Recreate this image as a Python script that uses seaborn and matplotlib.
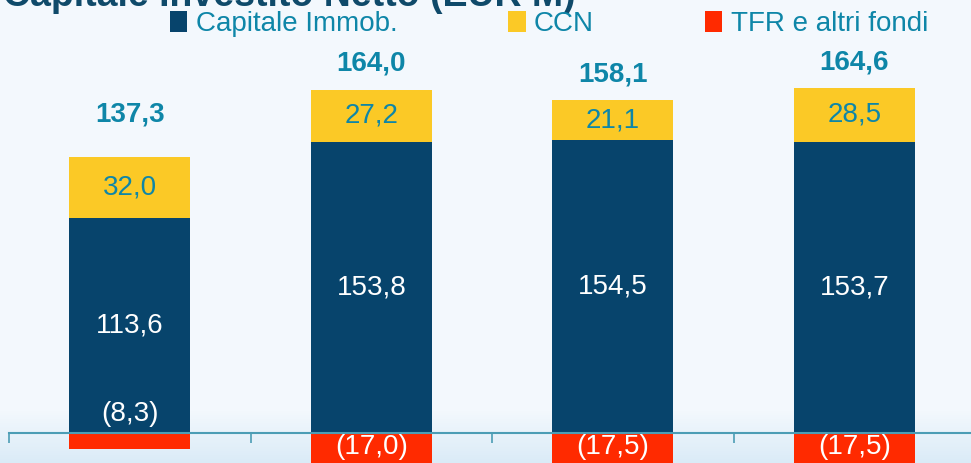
import numpy as np
import pandas as pd
import matplotlib
matplotlib.use("Agg")
import matplotlib.pyplot as plt
import seaborn as sns
from matplotlib.patches import Patch

# data
periods = ["P1", "P2", "P3", "P4"]
capitale_immob = [113.6, 153.8, 154.5, 153.7]
ccn = [32.0, 27.2, 21.1, 28.5]
tfr_fondi = [-8.3, -17.0, -17.5, -17.5]
totals = [137.3, 164.0, 158.1, 164.6]
series_names = ["Capitale Immob.", "CCN", "TFR e altri fondi"]
title = "Capitale Investito Netto (EUR M)"

# colours
c_blue = "#07446C"
c_yellow = "#FBC926"
c_red = "#FF2A00"
c_teal = "#0E86A8"
c_title = "#0F4A6A"
c_axis = "#4C9DB5"

df = pd.DataFrame({"period": periods, "immob": capitale_immob,
                   "ccn": ccn, "tfr": tfr_fondi, "total": totals})


def fmt(v):
    s = f"{abs(v):.1f}".replace(".", ",")
    return f"({s})" if v < 0 else s


sns.set_style("white")
plt.rcParams["font.family"] = ["Liberation Sans", "DejaVu Sans"]

W, H = 971, 463
fig = plt.figure(figsize=(W / 100, H / 100), dpi=100)
fig.patch.set_facecolor("#F3F8FD")

# background gradient (light band at the bottom)
bg = fig.add_axes([0, 0, 1, 1], zorder=-1)
rows = np.arange(H)
top_c = np.array([0xF3, 0xF8, 0xFD]) / 255
bot_c = np.array([0xDA, 0xEB, 0xF7]) / 255
t = np.clip((rows - 410) / (H - 410), 0, 1)[:, None]
grad = top_c * (1 - t) + bot_c * t
bg.imshow(grad[:, None, :], aspect="auto", extent=[0, 1, 0, 1], origin="upper")
bg.axis("off")

# main axes: baseline at 433 px from top, 1.895 px per unit
scale = 1.895
ax = fig.add_axes([9 / W, 0, 966 / W, 1])
ax.set_facecolor("none")

bar_kw = dict(width=0.5, saturation=1, linewidth=0, edgecolor="none", ax=ax)
sns.barplot(data=df, x="period", y="immob", color=c_blue, **bar_kw)
sns.barplot(data=df, x="period", y="ccn", bottom=df["immob"], color=c_yellow,
            **bar_kw)
sns.barplot(data=df, x="period", y="tfr", color=c_red, **bar_kw)

ax.set_xlim(-0.5, 3.5)
ax.set_ylim(-(H - 433) / scale, 433 / scale)

for i, r in df.iterrows():
    ax.text(i, r["immob"] / 2, fmt(r["immob"]), ha="center", va="center",
            color="white", fontsize=20)
    ax.text(i, r["immob"] + r["ccn"] / 2, fmt(r["ccn"]), ha="center",
            va="center", color=c_teal, fontsize=20)
    ry = 10 if abs(r["tfr"]) < 10 else -7.5
    ax.text(i, ry, fmt(r["tfr"]), ha="center", va="center",
            color="white", fontsize=20)
    ax.text(i, r["total"] + 31, fmt(r["total"]), ha="center", va="center",
            color=c_teal, fontsize=20, fontweight="bold")

# axis line with ticks at category boundaries
for s in ["top", "right", "left"]:
    ax.spines[s].set_visible(False)
ax.spines["bottom"].set_position(("data", 0))
ax.spines["bottom"].set_color(c_axis)
ax.spines["bottom"].set_linewidth(1.5)
ax.set_xticks([-0.5, 0.5, 1.5, 2.5, 3.5])
ax.set_xticklabels([])
ax.tick_params(axis="x", direction="out", length=7.5, width=1.2,
               color=c_axis, bottom=True)
ax.set_yticks([])
ax.set_xlabel("")
ax.set_ylabel("")

# title (cut off at the top)
fig.text(3 / W, 1 - 6 / H, title, ha="left", va="baseline",
         fontsize=27, fontweight="bold", color=c_title)

# legend
handles = [Patch(facecolor=c, edgecolor="none")
           for c in [c_blue, c_yellow, c_red]]
leg = fig.legend(handles, series_names, ncol=3, loc="center left",
                 bbox_to_anchor=(170 / W, 1 - 24 / H), frameon=False,
                 fontsize=20, handlelength=0.62, handleheight=0.8,
                 handletextpad=0.3, columnspacing=4.0, borderpad=0,
                 borderaxespad=0)
for txt in leg.get_texts():
    txt.set_color(c_teal)

fig.savefig("out.png", dpi=100, facecolor=fig.get_facecolor())
